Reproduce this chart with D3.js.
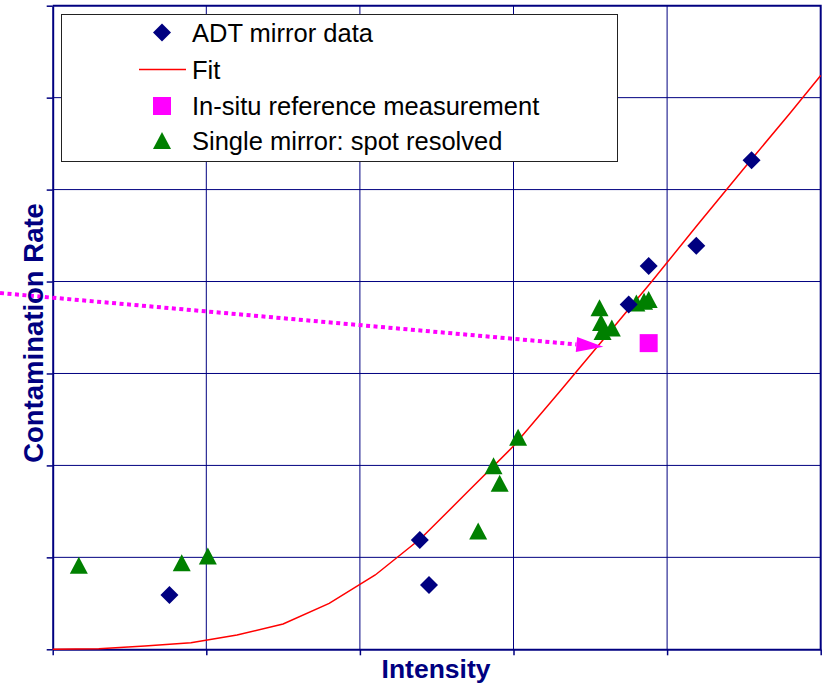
<!DOCTYPE html>
<html>
<head>
<meta charset="utf-8">
<script src="https://cdn.jsdelivr.net/npm/d3@7"></script>
<style>
  body { margin: 0; background: #fff; }
  svg { display: block; }
</style>
</head>
<body>
<svg></svg>
<script>
// values (arbitrary units, x 0..5, y 0..7)
let adtX = [0.76, 2.39, 2.45, 3.75, 3.88, 4.19, 4.55];
let adtY = [0.59, 1.19, 0.70, 3.75, 4.17, 4.39, 5.32];

let fitX = [0, 0.3, 0.6, 0.9, 1.2, 1.5, 1.8, 2.1, 2.4, 2.7, 3.0, 3.3, 3.6, 3.9, 4.2, 4.5, 4.8, 5.0];
let fitY = [0, 0.006, 0.036, 0.072, 0.156, 0.275, 0.50, 0.808, 1.21, 1.71, 2.21, 2.80, 3.40, 4.0, 4.62, 5.23, 5.83, 6.24];

let refX = [3.88];
let refY = [3.33];

let singleX = [0.17, 0.84, 1.01, 2.77, 2.87, 2.91, 3.03, 3.56, 3.57, 3.58, 3.64, 3.80, 3.85, 3.88];
let singleY = [0.91, 0.935, 1.01, 1.28, 1.99, 1.80, 2.30, 3.71, 3.55, 3.45, 3.49, 3.76, 3.78, 3.80];

let arrowX = [-0.343, 3.585];
let arrowY = [3.875, 3.29];

let legendLabels = ['ADT mirror data', 'Fit', 'In-situ reference measurement', 'Single mirror: spot resolved'];

let xTicks = [0, 1, 2, 3, 4, 5];
let yTicks = [0, 1, 2, 3, 4, 5, 6, 7];

let width = 823;
let height = 686;
let plotLeft = 52.7, plotRight = 820.7, plotTop = 5.7, plotBottom = 649.3;
let navy = '#000080';

let svg = d3.select('svg').attr('width', width).attr('height', height);

let xScale = d3.scaleLinear().domain([0, 5]).range([plotLeft, plotRight]);
let yScale = d3.scaleLinear().domain([0, 7]).range([plotBottom, plotTop]);

// grid
svg.append('g').
selectAll('line').
data(xTicks.slice(1, -1)).
enter().
append('line').
attr('x1', d => xScale(d)).attr('x2', d => xScale(d)).
attr('y1', plotTop).attr('y2', plotBottom).
attr('stroke', navy).attr('stroke-width', 1);

svg.append('g').
selectAll('line').
data(yTicks.slice(1, -1)).
enter().
append('line').
attr('x1', plotLeft).attr('x2', plotRight).
attr('y1', d => yScale(d)).attr('y2', d => yScale(d)).
attr('stroke', navy).attr('stroke-width', 1);

// axes
let xAxis = d3.axisBottom(xScale).tickValues(xTicks).tickFormat('').tickSizeInner(6).tickSizeOuter(0);
let yAxis = d3.axisLeft(yScale).tickValues(yTicks).tickFormat('').tickSizeInner(6).tickSizeOuter(0);

svg.append('g').
attr('transform', 'translate(0,' + plotBottom + ')').
call(xAxis).
call(g => g.selectAll('line').attr('stroke', navy).attr('stroke-width', 1.5)).
call(g => g.select('.domain').attr('stroke', navy).attr('stroke-width', 2));

svg.append('g').
attr('transform', 'translate(' + plotLeft + ',0)').
call(yAxis).
call(g => g.selectAll('line').attr('stroke', navy).attr('stroke-width', 1.5)).
call(g => g.select('.domain').attr('stroke', navy).attr('stroke-width', 2));

// top and right border
svg.append('path').
attr('d', 'M' + plotLeft + ',' + plotTop + 'H' + plotRight + 'V' + plotBottom).
attr('fill', 'none').attr('stroke', navy).attr('stroke-width', 2);

// fit line
let line = d3.line().x(d => xScale(d[0])).y(d => yScale(d[1]));
svg.append('path').
datum(fitX.map((x, i) => [x, fitY[i]])).
attr('d', line).
attr('fill', 'none').attr('stroke', '#ff0000').attr('stroke-width', 1.5);

// marker shapes
let diamond = 'M0,-9L9,0L0,9L-9,0Z';
let square = 'M-9,-9H9V9H-9Z';
let triangle = 'M0,-9L9,8L-9,8Z';

svg.append('g').
selectAll('path').
data(singleX.map((x, i) => [x, singleY[i]])).
enter().
append('path').
attr('d', triangle).
attr('transform', d => 'translate(' + xScale(d[0]) + ',' + yScale(d[1]) + ')').
attr('fill', '#008000');

svg.append('g').
selectAll('path').
data(adtX.map((x, i) => [x, adtY[i]])).
enter().
append('path').
attr('d', diamond).
attr('transform', d => 'translate(' + xScale(d[0]) + ',' + yScale(d[1]) + ')').
attr('fill', navy);

svg.append('g').
selectAll('path').
data(refX.map((x, i) => [x, refY[i]])).
enter().
append('path').
attr('d', square).
attr('transform', d => 'translate(' + xScale(d[0]) + ',' + yScale(d[1]) + ')').
attr('fill', '#ff00ff');

// dotted arrow
let x0 = xScale(arrowX[0]), y0 = yScale(arrowY[0]);
let x1 = xScale(arrowX[1]), y1 = yScale(arrowY[1]);
let len = Math.hypot(x1 - x0, y1 - y0);
let ux = (x1 - x0) / len, uy = (y1 - y0) / len;
let headLen = 27, headHalf = 7.5;
let bx = x1 - ux * headLen, by = y1 - uy * headLen;

svg.append('line').
attr('x1', x0).attr('y1', y0).attr('x2', bx).attr('y2', by).
attr('stroke', '#ff00ff').attr('stroke-width', 4).
attr('stroke-dasharray', '4,3.5');

svg.append('path').
attr('d', 'M' + x1 + ',' + y1 +
'L' + (bx - uy * headHalf) + ',' + (by + ux * headHalf) +
'L' + (bx + uy * headHalf) + ',' + (by - ux * headHalf) + 'Z').
attr('fill', '#ff00ff');

// legend
let legend = svg.append('g');
legend.append('rect').
attr('x', 61.5).attr('y', 14.5).attr('width', 556).attr('height', 147).
attr('fill', '#fff').attr('stroke', '#222').attr('stroke-width', 1);

let rowY = [32.5, 69.5, 106, 140.5];
let symX = 162;

legend.append('path').attr('d', diamond).attr('transform', 'translate(' + symX + ',' + rowY[0] + ')').attr('fill', navy);
legend.append('line').attr('x1', 139).attr('x2', 186).attr('y1', rowY[1]).attr('y2', rowY[1]).
attr('stroke', '#ff0000').attr('stroke-width', 1.5);
legend.append('path').attr('d', square).attr('transform', 'translate(' + symX + ',' + rowY[2] + ')').attr('fill', '#ff00ff');
legend.append('path').attr('d', triangle).attr('transform', 'translate(' + symX + ',' + (rowY[3] + 0.5) + ')').attr('fill', '#008000');

legend.selectAll('text').
data(legendLabels).
enter().
append('text').
attr('x', 192).
attr('y', (d, i) => rowY[i] + 9).
attr('font-family', 'Liberation Sans, Arial, sans-serif').
attr('font-size', 25.5).
attr('fill', '#000').
text(d => d);

// axis titles
svg.append('text').
attr('x', 436).attr('y', 677.5).
attr('text-anchor', 'middle').
attr('font-family', 'Liberation Sans, Arial, sans-serif').
attr('font-weight', 'bold').attr('font-size', 26.5).
attr('fill', navy).
text('Intensity');

svg.append('text').
attr('transform', 'translate(43,333) rotate(-90)').
attr('text-anchor', 'middle').
attr('font-family', 'Liberation Sans, Arial, sans-serif').
attr('font-weight', 'bold').attr('font-size', 27.5).
attr('fill', navy).
text('Contamination Rate');
</script>
</body>
</html>
